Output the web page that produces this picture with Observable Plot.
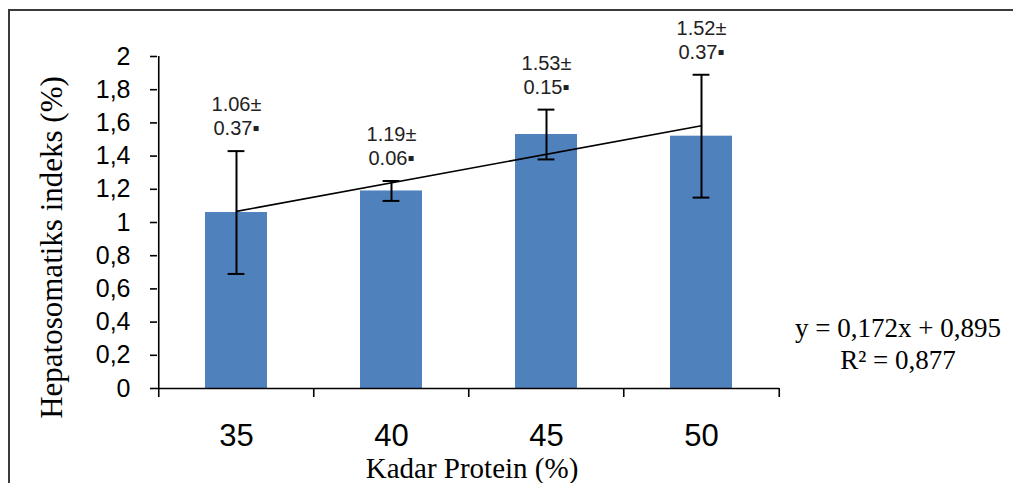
<!DOCTYPE html>
<html><head><meta charset="utf-8">
<script src="https://cdn.jsdelivr.net/npm/d3@7"></script>
<script src="https://cdn.jsdelivr.net/npm/@observablehq/plot@0.6"></script>
<style>
html,body{margin:0;padding:0;background:#fff;overflow:hidden;}
#wrap{position:relative;width:1013px;height:483px;overflow:hidden;}
#border{position:absolute;left:8px;top:9px;width:1020px;height:490px;border-left:2.5px solid #3a3a3a;border-top:2.5px solid #3a3a3a;}
#chart{position:absolute;left:0;top:0;}
</style></head><body>
<div id="wrap"><div id="border"></div><div id="chart"></div></div>
<script>
const categories = ["35", "40", "45", "50"];
const means = [1.06, 1.19, 1.53, 1.52];
const sds = [0.37, 0.06, 0.15, 0.37];
const meanLabels = ["1.06", "1.19", "1.53", "1.52"];
const sdLabels = ["0.37", "0.06", "0.15", "0.37"];
const trendCategories = ["35", "50"];
const trendValues = [1.067, 1.583];
const yTicks = [0, 0.2, 0.4, 0.6, 0.8, 1, 1.2, 1.4, 1.6, 1.8, 2];
const equationLines = ["y = 0,172x + 0,895", "R² = 0,877"];
const xTitle = "Kadar Protein (%)";
const yTitle = "Hepatosomatiks indeks (%)";

const W = 1013, H = 483, mL = 157, mR = 234, mT = 56, mB = 95;
const step = (W - mL - mR) / categories.length;
const bandW = step * 0.4;
const capW = 17;
const serif = "'Liberation Serif', 'Times New Roman', serif";

const data = categories.map((c, i) => ({
  cat: c, mean: means[i], lo: means[i] - sds[i], hi: means[i] + sds[i],
  label: `${meanLabels[i]}±\n${sdLabels[i]}▪`
}));
const trend = trendCategories.map((c, i) => ({cat: c, y: trendValues[i]}));
const fmt = d => String(+d.toFixed(1)).replace(".", ",");

const chart = Plot.plot({
  width: W, height: H,
  marginLeft: mL, marginRight: mR, marginTop: mT, marginBottom: mB,
  style: {fontFamily: "'Liberation Sans', Arial, sans-serif", color: "#000", background: "transparent", overflow: "visible"},
  x: {type: "band", domain: categories, paddingInner: 0.6, paddingOuter: 0.3, axis: null},
  y: {domain: [0, 2], axis: null},
  marks: [
    Plot.barY(data, {x: "cat", y: "mean", fill: "#4f81bd"}),
    Plot.ruleX(data, {x: "cat", y1: "lo", y2: "hi", stroke: "#000", strokeWidth: 2}),
    Plot.tickY(data, {x: "cat", y: "hi", stroke: "#000", strokeWidth: 2, insetLeft: (bandW - capW) / 2, insetRight: (bandW - capW) / 2}),
    Plot.tickY(data, {x: "cat", y: "lo", stroke: "#000", strokeWidth: 2, insetLeft: (bandW - capW) / 2, insetRight: (bandW - capW) / 2}),
    Plot.line(trend, {x: "cat", y: "y", stroke: "#000", strokeWidth: 1.6}),
    Plot.text(data, {x: "cat", y: "hi", text: "label", lineAnchor: "bottom", dy: -16, fontSize: 20, lineHeight: 1.2, fill: "#222"}),
    Plot.ruleY([0], {stroke: "#000", strokeWidth: 1.6}),
    Plot.ruleX([categories[0]], {dx: -step / 2, stroke: "#000", strokeWidth: 1.6}),
    Plot.axisY({ticks: yTicks, tickSize: 7, tickPadding: 20, fontSize: 25, tickFormat: fmt, label: null, stroke: "#000", strokeWidth: 1.6}),
    Plot.axisX({tickSize: 9, tickFormat: () => "", label: null, dx: -step / 2, stroke: "#000", strokeWidth: 1.6}),
    Plot.axisX({ticks: [categories[categories.length - 1]], tickSize: 9, tickFormat: () => "", label: null, dx: step / 2, stroke: "#000", strokeWidth: 1.6}),
    Plot.axisX({tickSize: 0, tickPadding: 35, fontSize: 31, label: null}),
    Plot.text([xTitle], {text: d => d, frameAnchor: "bottom", dx: 3.5, dy: 89, lineAnchor: "bottom", fontFamily: serif, fontSize: 29, fill: "#000"}),
    Plot.text([yTitle], {text: d => d, frameAnchor: "left", textAnchor: "middle", lineAnchor: "middle", rotate: -90, dx: -105, dy: 25, fontFamily: serif, fontSize: 31, fill: "#000"}),
    Plot.text([equationLines.join("\n")], {text: d => d, frameAnchor: "right", dx: 118.5, dy: 146, lineAnchor: "bottom", textAnchor: "middle", fontSize: 27, lineHeight: 1.15, fontFamily: serif, fill: "#000"})
  ]
});
document.getElementById("chart").appendChild(chart);
</script>
</body></html>
